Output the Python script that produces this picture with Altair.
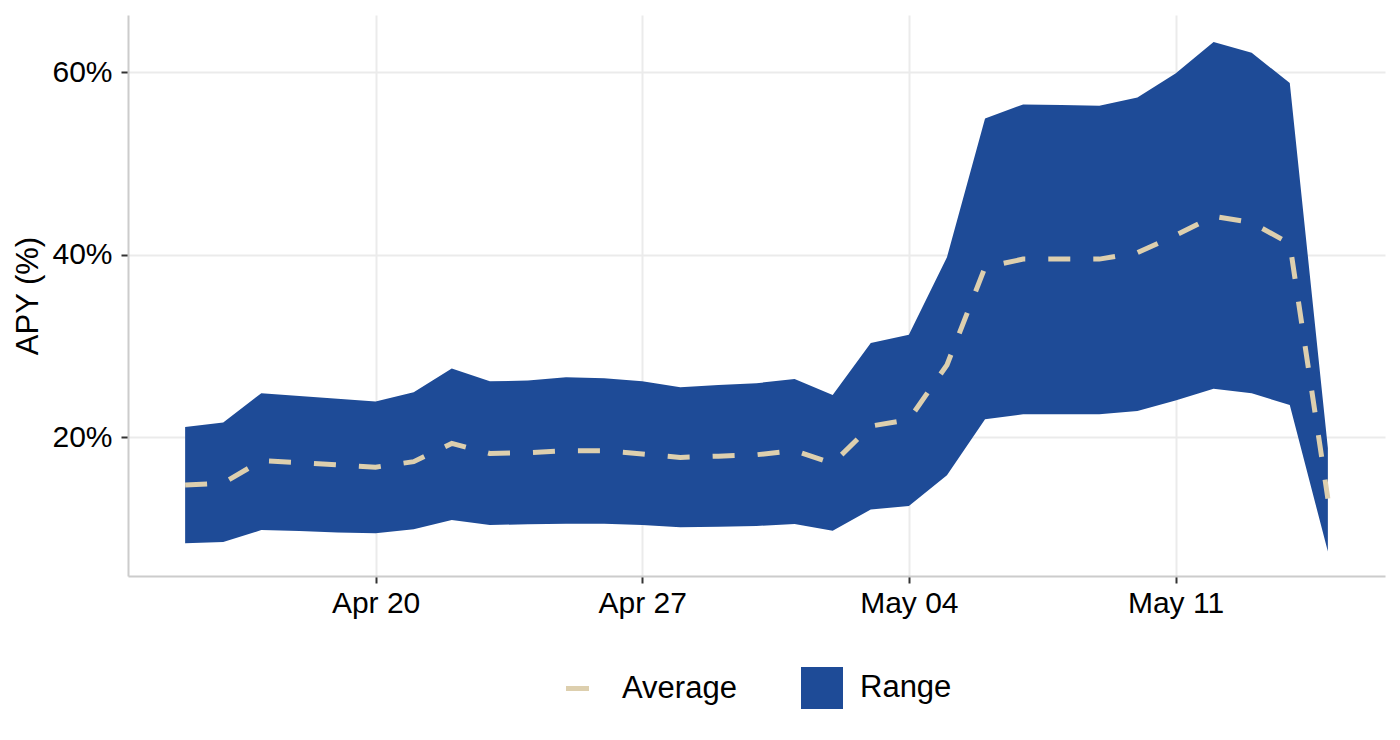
import pandas as pd
import altair as alt

# daily APY range and average, Apr 15 - May 15
dates = pd.date_range("2021-04-15", "2021-05-15", freq="D")
upper = [21.1, 21.6, 24.8, 24.5, 24.2, 23.9, 24.9, 27.5, 26.1, 26.2, 26.55,
         26.45, 26.1, 25.45, 25.7, 25.9, 26.35, 24.6, 30.3, 31.2, 39.7, 54.9,
         56.45, 56.4, 56.3, 57.2, 59.85, 63.3, 62.1, 58.8, 18.8]
lower = [8.35, 8.5, 9.8, 9.7, 9.55, 9.45, 9.9, 10.9, 10.35, 10.45, 10.5,
         10.5, 10.36, 10.1, 10.17, 10.25, 10.47, 9.73, 12.05, 12.45, 15.8, 21.95,
         22.5, 22.5, 22.5, 22.85, 24.0, 25.3, 24.8, 23.5, 7.45]
average = [14.75, 14.95, 17.4, 17.2, 16.95, 16.7, 17.3, 19.3, 18.2, 18.28, 18.5,
           18.5, 18.14, 17.77, 17.9, 18.06, 18.5, 17.1, 21.2, 21.9, 27.9, 38.6,
           39.5, 39.5, 39.5, 40.2, 42.1, 44.2, 43.5, 41.2, 13.25]

x_ticks = ["2021-04-20", "2021-04-27", "2021-05-04", "2021-05-11"]
y_ticks = [20, 40, 60]

BLUE = "#1E4B97"
BEIGE = "#DDCFAE"
FONT = "Liberation Sans"

df = pd.DataFrame({"date": dates, "upper": upper, "lower": lower, "average": average})


def dt(s, hours=0):
    t = pd.Timestamp(s)
    return alt.DateTime(year=t.year, month=t.month, date=t.day, hours=hours)


x_scale = alt.Scale(domain=[dt("2021-04-13", 12), dt("2021-05-16", 12)], nice=False)
y_scale = alt.Scale(domain=[4.77, 66.25], nice=False, zero=False)

x_axis = alt.Axis(values=[dt(t) for t in x_ticks], format="%b %d", title=None,
                  labelPadding=5)
y_axis = alt.Axis(values=y_ticks, labelExpr="datum.value + '%'", title="APY (%)",
                  labelPadding=9, titleX=-84, titleY=280.5, titleAngle=270,
                  titleBaseline="bottom", titleAlign="center")

area = alt.Chart(df).mark_area().encode(
    x=alt.X("date:T", scale=x_scale, axis=x_axis),
    y=alt.Y("lower:Q", scale=y_scale, axis=y_axis),
    y2="upper:Q",
    fill=alt.Fill(
        "band:N",
        scale=alt.Scale(domain=["Range"], range=[BLUE]),
        legend=alt.Legend(title=None, orient="none", legendX=673, legendY=652,
                          symbolType="square", symbolSize=1764, symbolStrokeWidth=0,
                          symbolOpacity=1, labelOffset=17, padding=0),
    ),
).transform_calculate(band="'Range'")

line = alt.Chart(df).mark_line(strokeWidth=5, strokeDash=[22, 23]).encode(
    x="date:T",
    y="average:Q",
    stroke=alt.Stroke(
        "series:N",
        scale=alt.Scale(domain=["Average"], range=[BEIGE]),
        legend=alt.Legend(title=None, orient="none", legendX=434, legendY=658,
                          symbolType="stroke", symbolSize=529, symbolStrokeWidth=5,
                          labelOffset=29, padding=0),
    ),
).transform_calculate(series="'Average'")

chart = alt.layer(area, line).resolve_scale(
    fill="independent", stroke="independent"
).properties(
    width=1257,
    height=561,
    padding={"left": 120, "top": 7, "right": 7, "bottom": 156},
    autosize=alt.AutoSizeParams(type="none"),
).configure_view(
    strokeWidth=0
).configure_axis(
    labelFont=FONT, labelFontSize=30, labelColor="#000000",
    titleFont=FONT, titleFontSize=31, titleColor="#000000", titleFontWeight="normal",
    domainColor="#cccccc", domainWidth=2,
    gridColor="#ebebeb", gridWidth=2,
    tickColor="#333333", tickWidth=2, tickSize=7,
).configure_legend(
    labelFont=FONT, labelFontSize=31, labelColor="#000000",
)

chart.save("out.html", embed_options={"renderer": "svg", "actions": False})
